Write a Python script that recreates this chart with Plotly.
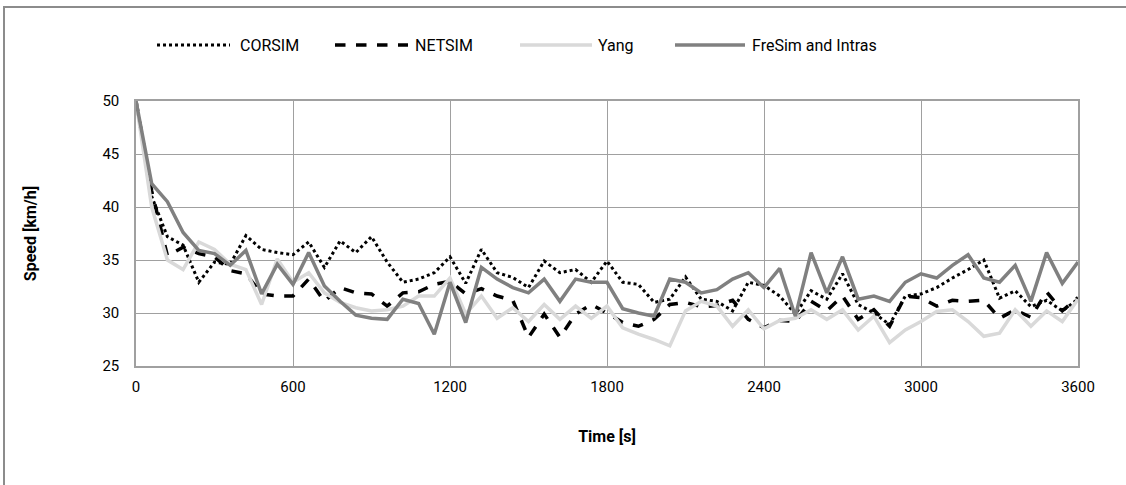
import plotly.graph_objects as go

time_s = list(range(0, 3601, 60))

corsim = [50, 41.0, 37.2, 36.4, 32.9, 34.8, 34.6, 37.3, 36.0, 35.7,
          35.5, 36.7, 34.3, 36.8, 35.7, 37.2, 34.8, 32.9, 33.2, 33.8,
          35.3, 32.8, 36.0, 33.8, 33.35, 32.4, 34.9, 33.8, 34.1, 32.9,
          34.9, 32.9, 32.7, 31.0, 31.3, 33.4, 31.3, 31.1, 30.2, 32.9,
          32.6, 31.6, 29.9, 32.1, 31.3, 33.7, 30.8, 30.0, 28.9, 31.6,
          31.8, 32.4, 33.3, 34.1, 35.0, 31.4, 32.1, 30.6, 31.2, 30.2,
          31.3]

netsim = [50, 41.5, 35.4, 36.2, 35.6, 35.3, 34.0, 33.7, 31.8, 31.6,
          31.6, 33.2, 31.1, 32.4, 31.9, 31.8, 30.65, 31.9, 32.0, 32.7,
          33.0, 31.8, 32.3, 31.6, 31.2, 27.7, 29.9, 27.7, 29.9, 30.8,
          30.0, 29.1, 28.75, 29.4, 30.8, 31.0, 30.6, 30.7, 31.2, 29.4,
          28.6, 29.3, 29.2, 31.1, 30.2, 31.6, 29.4, 30.3, 28.75, 31.6,
          31.45, 30.65, 31.2, 31.1, 31.2, 29.5, 30.3, 29.6, 32.0, 30.2,
          31.45]

yang = [50, 40.0, 35.0, 34.1, 36.7, 36.0, 34.6, 34.1, 30.8, 35.1,
        32.9, 33.8, 31.9, 31.0, 30.5, 30.2, 30.3, 30.65, 31.6, 31.6,
        33.3, 29.9, 31.6, 29.5, 30.5, 29.2, 30.8, 29.4, 30.65, 29.5,
        30.65, 28.6, 28.0, 27.5, 26.9, 30.2, 31.1, 30.65, 28.75, 30.3,
        28.5, 29.3, 29.5, 30.3, 29.4, 30.3, 28.4, 29.7, 27.2, 28.4,
        29.2, 30.15, 30.3, 29.2, 27.8, 28.1, 30.3, 28.75, 30.2, 29.2,
        31.3]

fresim = [50, 42.2, 40.5, 37.6, 35.9, 35.6, 34.5, 35.9, 31.8, 34.6,
          32.7, 35.7, 32.55, 31.1, 29.8, 29.5, 29.4, 31.3, 30.9, 28.0,
          32.9, 29.1, 34.3, 33.2, 32.4, 31.9, 33.2, 31.1, 33.2, 32.9,
          32.9, 30.4, 30.0, 29.7, 33.2, 32.9, 31.9, 32.2, 33.2, 33.8,
          32.4, 34.2, 29.7, 35.7, 31.9, 35.3, 31.3, 31.6, 31.1, 32.9,
          33.7, 33.3, 34.5, 35.5, 33.3, 32.9, 34.5, 31.1, 35.7, 32.8,
          34.8]

x_ticks = [0, 600, 1200, 1800, 2400, 3000, 3600]
y_ticks = [25, 30, 35, 40, 45, 50]

series_names = ["CORSIM", "NETSIM", "Yang", "FreSim and Intras"]
series_values = [corsim, netsim, yang, fresim]
series_styles = [
    dict(color="black", width=3, dash="dot"),
    dict(color="black", width=3.5, dash="dash"),
    dict(color="#d9d9d9", width=3.5, dash="solid"),
    dict(color="#808080", width=3.5, dash="solid"),
]

FONT = "Roboto, Noto Sans, sans-serif"

fig = go.Figure()
for name, vals, st in zip(series_names, series_values, series_styles):
    fig.add_trace(go.Scatter(x=time_s, y=vals, name=name, mode="lines",
                             line=st, showlegend=False))

L, R, T, B = 136, 48, 101, 119
W, H = 1126, 485
pw, ph = W - L - R, H - T - B


def px_x(p):
    return (p - L) / pw


def px_y(p):
    return (H - B - p) / ph


fig.update_layout(
    width=W, height=H,
    margin=dict(l=L, r=R, t=T, b=B, autoexpand=False),
    paper_bgcolor="white", plot_bgcolor="white",
    font=dict(family=FONT, size=15, color="black"),
    showlegend=False,
    xaxis=dict(range=[0, 3600], tickvals=x_ticks, showgrid=True,
               gridcolor="#a0a0a0", gridwidth=1, showline=True,
               linecolor="#a0a0a0", linewidth=1.5, mirror=True, zeroline=False,
               ticks="", ticklabelstandoff=6, automargin=False,
               title=dict(text="<b>Time [s]</b>", font=dict(size=16), standoff=36)),
    yaxis=dict(range=[25, 50], tickvals=y_ticks, showgrid=True,
               gridcolor="#a0a0a0", gridwidth=1, showline=True,
               linecolor="#a0a0a0", linewidth=1.5, mirror=True, zeroline=False,
               ticks="", ticklabelstandoff=12, automargin=False,
               title=dict(text="<b>Speed [km/h]</b>", font=dict(size=16), standoff=62)),
)

# custom legend (long line samples like the original)
leg_y = 45
leg_lines = [(157, 230), (335, 408), (520, 592), (675, 745)]
leg_text_x = [238, 413, 596, 750]
for name, st, (a, b), tx in zip(series_names, series_styles, leg_lines, leg_text_x):
    fig.add_shape(type="line", xref="paper", yref="paper",
                  x0=px_x(a), x1=px_x(b), y0=px_y(leg_y), y1=px_y(leg_y),
                  line=dict(color=st["color"], width=st["width"], dash=st["dash"]))
    fig.add_annotation(text=name, xref="paper", yref="paper",
                       x=px_x(tx), y=px_y(leg_y), xanchor="left", yanchor="middle",
                       showarrow=False, font=dict(size=16, color="black"))

# outer chart frame (extends past the right/bottom of the picture)
fig.add_shape(type="rect", xref="paper", yref="paper",
              x0=px_x(4), x1=px_x(1135),
              y0=px_y(495), y1=px_y(7),
              line=dict(color="#8c8c8c", width=2), fillcolor="rgba(0,0,0,0)",
              layer="below")

fig.write_html("out.html",
               config={"displayModeBar": False},
               post_script="document.body.style.margin='0';document.body.style.overflow='hidden';")
